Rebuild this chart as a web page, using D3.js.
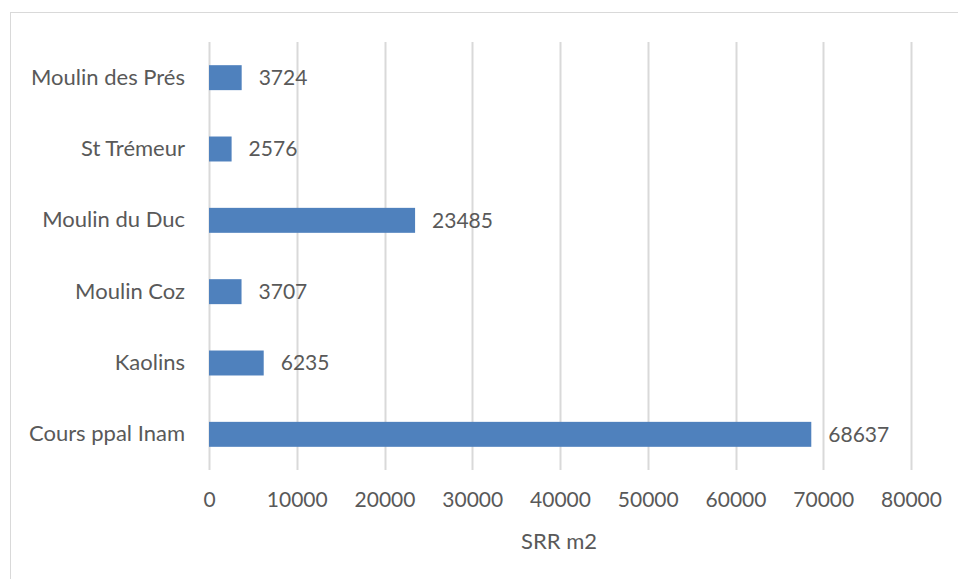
<!DOCTYPE html>
<html>
<head>
<meta charset="utf-8">
<script src="https://cdn.jsdelivr.net/npm/d3@7"></script>
<style>
	body { margin: 0; background: #fff; }
	text { font-family: Lato, "Open Sans", sans-serif; fill: #595959; }
</style>
</head>
<body>
<div id="chart"></div>
<script>
// Categories, bottom to top as in the picture
let categories = ["Cours ppal Inam", "Kaolins", "Moulin Coz", "Moulin du Duc", "St Trémeur", "Moulin des Prés"];
let values = [68637, 6235, 3707, 23485, 2576, 3724];
let ticks = [0, 10000, 20000, 30000, 40000, 50000, 60000, 70000, 80000];
let axisTitle = "SRR m2";

let W = 958, H = 579;
let margin = { top: 42, right: 47, bottom: 109, left: 209 };
let width = W - margin.left - margin.right,
	height = H - margin.top - margin.bottom;

let root = d3.select("#chart").append("svg")
	.attr("width", W)
	.attr("height", H);

// Outer chart border (right/bottom fall outside the frame)
root.append("rect")
	.attr("x", 10.5)
	.attr("y", 12.5)
	.attr("width", W + 20)
	.attr("height", H + 20)
	.attr("fill", "none")
	.attr("stroke", "#d9d9d9");

let svg = root.append("g")
	.attr("transform", "translate(" + margin.left + "," + margin.top + ")");

let x = d3.scaleLinear()
	.domain([0, 80000])
	.range([0, width]);

// Top category first
let y = d3.scaleBand()
	.domain(categories.slice().reverse())
	.range([0, height])
	.paddingInner(0.65)
	.paddingOuter(0.325);

// Vertical gridlines
svg.selectAll(".grid")
	.data(ticks)
	.enter().append("line")
	.attr("class", "grid")
	.attr("x1", d => Math.round(x(d)) + 0.5)
	.attr("x2", d => Math.round(x(d)) + 0.5)
	.attr("y1", 0)
	.attr("y2", height)
	.attr("stroke", "#d9d9d9")
	.attr("stroke-width", 2);

// X axis tick labels
let xAxis = d3.axisBottom(x)
	.tickValues(ticks)
	.tickFormat(d3.format("d"))
	.tickSize(0)
	.tickPadding(22);

svg.append("g")
	.attr("class", "x-axis")
	.attr("transform", "translate(0," + height + ")")
	.call(xAxis)
	.call(g => g.select(".domain").remove())
	.selectAll("text")
	.style("font-size", "21px")
	.attr("fill", "#595959");

// Y axis category labels
let yAxis = d3.axisLeft(y)
	.tickSize(0)
	.tickPadding(24);

svg.append("g")
	.attr("class", "y-axis")
	.call(yAxis)
	.call(g => g.select(".domain").remove())
	.selectAll("text")
	.style("font-size", "22px")
	.attr("fill", "#595959");

let data = categories.map((c, i) => ({ cat: c, value: values[i] }));

// Bars
svg.selectAll(".bar")
	.data(data)
	.enter().append("rect")
	.attr("class", "bar")
	.attr("x", x(0))
	.attr("y", d => y(d.cat))
	.attr("width", d => x(d.value) - x(0))
	.attr("height", y.bandwidth())
	.attr("fill", "#4f81bd");

// Value labels
svg.selectAll(".bar-label")
	.data(data)
	.enter().append("text")
	.attr("class", "bar-label")
	.attr("x", d => x(d.value) + 17)
	.attr("y", d => y(d.cat) + y.bandwidth() / 2)
	.attr("dy", "0.35em")
	.style("font-size", "21px")
	.text(d => d.value);

// Axis title
svg.append("text")
	.attr("x", width / 2 - 1)
	.attr("y", height + 71)
	.attr("dy", "0.35em")
	.style("text-anchor", "middle")
	.style("font-size", "22px")
	.text(axisTitle);
</script>
</body>
</html>
